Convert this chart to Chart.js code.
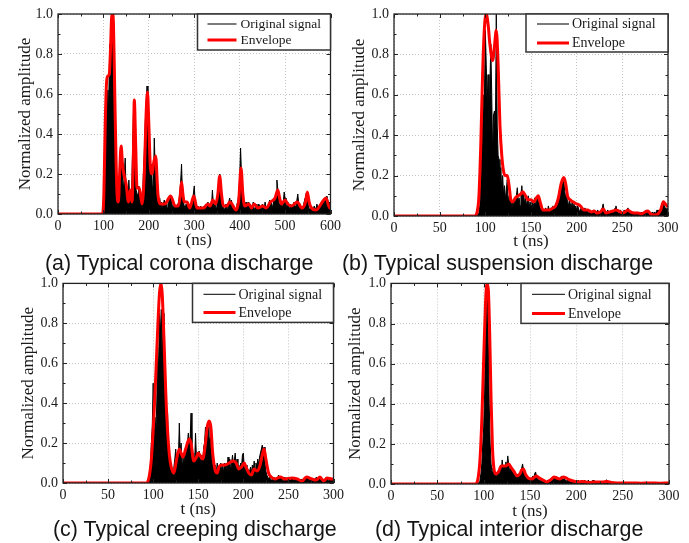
<!DOCTYPE html>
<html>
<head>
<meta charset="utf-8">
<script src="https://cdn.jsdelivr.net/npm/chart.js@4.4.0/dist/chart.umd.min.js"></script>
<style>
  body { margin: 0; background: #fff; width: 689px; height: 543px; position: relative; overflow: hidden; }
  canvas { position: absolute; }
  .caption { position: absolute; font-family: "Liberation Sans", Arial, sans-serif; font-size: 21.4px; line-height: 21px; color: #151515; white-space: nowrap; }
</style>
</head>
<body>
<canvas id="chartA" width="345" height="252" style="left:0;top:0"></canvas>
<canvas id="chartB" width="344" height="252" style="left:345px;top:0"></canvas>
<canvas id="chartC" width="348" height="252" style="left:0;top:270px"></canvas>
<canvas id="chartD" width="344" height="252" style="left:345px;top:270px"></canvas>
<div class="caption" style="left:45px;top:253px">(a) Typical corona discharge</div>
<div class="caption" style="left:342px;top:253px">(b) Typical suspension discharge</div>
<div class="caption" style="left:53px;top:519px">(c) Typical creeping discharge</div>
<div class="caption" style="left:375px;top:519px">(d) Typical interior discharge</div>
<script>
// tick labels
const xTicks600 = [0, 100, 200, 300, 400, 500, 600];
const xTicks300 = [0, 50, 100, 150, 200, 250, 300];
const yTicks = [0, 0.2, 0.4, 0.6, 0.8, 1.0];
const yTickLabels = ['0.0', '0.2', '0.4', '0.6', '0.8', '1.0'];

// (a) corona: signal sampled every 2 ns from 100 ns
const aSigStart = 100, aSigStep = 2;
const aSignal = [
  0.0, 0.02, 0.3, 0.55, 0.62, 0.45, 0.6, 0.85, 0.7, 1.0,
  0.9, 0.75, 0.5, 0.35, 0.2, 0.1, 0.05, 0.12, 0.25, 0.3,
  0.28, 0.18, 0.12, 0.2, 0.28, 0.1, 0.06, 0.04, 0.17, 0.08,
  0.05, 0.1, 0.3, 0.5, 0.55, 0.35, 0.12, 0.1, 0.08, 0.14,
  0.12, 0.06, 0.04, 0.08, 0.2, 0.3, 0.45, 0.55, 0.64, 0.58,
  0.4, 0.3, 0.2, 0.25, 0.12, 0.15, 0.38, 0.22, 0.15, 0.08,
  0.06, 0.05, 0.08, 0.04, 0.06, 0.03, 0.05, 0.07, 0.04, 0.05,
  0.03, 0.05, 0.06, 0.08, 0.09, 0.06, 0.04, 0.03, 0.05, 0.03,
  0.04, 0.02, 0.05, 0.06, 0.1, 0.16, 0.25, 0.1, 0.06, 0.04,
  0.03, 0.05, 0.04, 0.06, 0.03, 0.02, 0.04, 0.05, 0.07, 0.1,
  0.14, 0.06, 0.03, 0.02, 0.04, 0.03, 0.02, 0.04, 0.03, 0.02,
  0.03, 0.04, 0.02, 0.05, 0.03, 0.06, 0.04, 0.03, 0.05, 0.04,
  0.12, 0.05, 0.04, 0.06, 0.03, 0.05, 0.08, 0.14, 0.2, 0.12,
  0.05, 0.03, 0.04, 0.02, 0.03, 0.05, 0.03, 0.02, 0.06, 0.08,
  0.05, 0.07, 0.03, 0.04, 0.02, 0.03, 0.02, 0.05, 0.06, 0.1,
  0.18, 0.33, 0.2, 0.08, 0.04, 0.05, 0.03, 0.06, 0.03, 0.04,
  0.06, 0.02, 0.05, 0.03, 0.04, 0.06, 0.02, 0.03, 0.05, 0.02,
  0.03, 0.05, 0.04, 0.02, 0.03, 0.05, 0.04, 0.03, 0.06, 0.03,
  0.04, 0.02, 0.05, 0.07, 0.04, 0.06, 0.03, 0.05, 0.08, 0.06,
  0.1, 0.17, 0.12, 0.06, 0.04, 0.07, 0.05, 0.03, 0.06, 0.11,
  0.08, 0.05, 0.03, 0.06, 0.04, 0.02, 0.05, 0.04, 0.03, 0.05,
  0.06, 0.04, 0.03, 0.07, 0.1, 0.05, 0.03, 0.04, 0.02, 0.03,
  0.04, 0.06, 0.08, 0.1, 0.11, 0.06, 0.03, 0.02, 0.04, 0.02,
  0.03, 0.02, 0.04, 0.03, 0.02, 0.05, 0.03, 0.04, 0.02, 0.05,
  0.06, 0.04, 0.07, 0.05, 0.08, 0.06, 0.09, 0.07, 0.05, 0.06,
  0.04
];
const aEnvTime = [0, 98, 101, 104, 107, 110, 113, 116, 118, 120, 122, 125, 128, 131, 133, 136, 139, 142, 145, 150,
  155, 159, 163, 166, 168, 171, 174, 179, 185, 190, 194, 197, 200, 203, 207, 211, 215, 220, 226, 235,
  248, 258, 265, 269, 272, 275, 278, 284, 290, 299, 306, 320, 330, 335, 341, 347, 352, 356, 360, 364,
  372, 378, 383, 392, 398, 403, 407, 411, 420, 426, 432, 440, 451, 458, 468, 478, 484, 488, 492, 500,
  506, 514, 527, 537, 545, 549, 553, 558, 568, 582, 590, 598, 600];
const aEnvelope = [0, 0, 0.1, 0.45, 0.66, 0.69, 0.7, 0.85, 0.98, 1.0, 0.96, 0.6, 0.25, 0.07, 0.06, 0.22, 0.34, 0.25, 0.2, 0.15,
  0.06, 0.12, 0.06, 0.3, 0.57, 0.35, 0.13, 0.13, 0.05, 0.2, 0.5, 0.61, 0.45, 0.25, 0.2, 0.26, 0.29, 0.1, 0.05, 0.05,
  0.09, 0.04, 0.04, 0.09, 0.16, 0.1, 0.06, 0.06, 0.03, 0.09, 0.03, 0.03, 0.05, 0.04, 0.07, 0.05, 0.1, 0.19, 0.1, 0.04,
  0.04, 0.06, 0.05, 0.02, 0.07, 0.23, 0.1, 0.04, 0.05, 0.03, 0.05, 0.03, 0.04, 0.03, 0.06, 0.08, 0.12, 0.08, 0.05, 0.07,
  0.05, 0.04, 0.06, 0.03, 0.06, 0.11, 0.06, 0.03, 0.02, 0.06, 0.08, 0.03, 0.03];

// (b) suspension: signal every 1 ns from 90 ns
const bSigStart = 90, bSigStep = 1;
const bSignal = [
  0, 0, 0.01, 0.02, 0.05, 0.15, 0.3, 0.45, 0.6, 0.58,
  0.92, 0.75, 0.55, 0.7, 0.4, 0.65, 0.85, 0.6, 0.3, 0.5,
  0.52, 0.4, 1.0, 0.45, 0.3, 0.28, 0.15, 0.24, 0.12, 0.2,
  0.1, 0.15, 0.08, 0.13, 0.18, 0.06, 0.1, 0.05, 0.08, 0.04,
  0.07, 0.05, 0.09, 0.06, 0.1, 0.14, 0.07, 0.09, 0.05, 0.11,
  0.15, 0.08, 0.11, 0.06, 0.09, 0.05, 0.08, 0.1, 0.04, 0.07,
  0.05, 0.08, 0.04, 0.06, 0.09, 0.05, 0.07, 0.1, 0.06, 0.08,
  0.04, 0.03, 0.05, 0.02, 0.03, 0.02, 0.04, 0.03, 0.02, 0.05,
  0.03, 0.02, 0.04, 0.03, 0.05, 0.04, 0.03, 0.06, 0.05, 0.08,
  0.1, 0.12, 0.14, 0.16, 0.18, 0.19, 0.17, 0.12, 0.09, 0.1,
  0.07, 0.05, 0.08, 0.06, 0.04, 0.07, 0.05, 0.06, 0.04, 0.05,
  0.03, 0.05, 0.04, 0.02, 0.03, 0.04, 0.02, 0.03, 0.02, 0.04,
  0.03, 0.02, 0.03, 0.01, 0.02, 0.03, 0.02, 0.01, 0.02, 0.03,
  0.02, 0.01, 0.02, 0.03, 0.02, 0.01, 0.02, 0.03, 0.04, 0.06,
  0.03, 0.02, 0.01, 0.02, 0.03, 0.02, 0.01, 0.02, 0.03, 0.02,
  0.03, 0.02, 0.04, 0.05, 0.03, 0.02, 0.01, 0.02, 0.03, 0.02,
  0.01, 0.02, 0.03, 0.02, 0.01, 0.02, 0.04, 0.03, 0.02, 0.01,
  0.02, 0.01, 0.02, 0.01, 0.02, 0.01, 0.02, 0.01, 0.01, 0.02,
  0.01, 0.02, 0.01, 0.02, 0.01, 0.02, 0.03, 0.02, 0.01, 0.02,
  0.01, 0.02, 0.01, 0.02, 0.01, 0.02, 0.01, 0.02, 0.03, 0.02,
  0.03, 0.02, 0.04, 0.05, 0.06, 0.07, 0.05, 0.04, 0.03, 0.04,
  0.03
];
const bEnvTime = [0, 88, 91, 93, 95, 97, 99, 101, 103, 105, 108, 110, 112, 114, 116, 118, 120, 122, 124, 126,
  128, 130, 133, 136, 139, 141, 144, 147, 150, 153, 156, 158, 160, 163, 167, 170, 174, 177, 180, 183,
  186, 188, 190, 193, 196, 200, 204, 208, 212, 216, 219, 222, 226, 229, 232, 236, 240, 243, 246, 250,
  253, 256, 259, 263, 267, 271, 275, 278, 281, 285, 289, 292, 295, 297, 300];
const bEnvelope = [0, 0, 0.02, 0.1, 0.35, 0.7, 0.93, 1.0, 0.95, 0.85, 0.77, 0.84, 0.92, 0.75, 0.45, 0.3, 0.22, 0.2, 0.2, 0.15,
  0.08, 0.07, 0.09, 0.1, 0.11, 0.12, 0.1, 0.08, 0.08, 0.07, 0.09, 0.1, 0.07, 0.03, 0.03, 0.03, 0.04, 0.05, 0.09, 0.16,
  0.19, 0.16, 0.1, 0.08, 0.07, 0.06, 0.05, 0.03, 0.03, 0.02, 0.025, 0.015, 0.02, 0.035, 0.015, 0.02, 0.025, 0.03, 0.025, 0.015,
  0.02, 0.03, 0.02, 0.015, 0.015, 0.01, 0.02, 0.025, 0.01, 0.005, 0.01, 0.03, 0.07, 0.06, 0.045];

// (c) creeping: signal every 1 ns from 94 ns
const cSigStart = 94, cSigStep = 1;
const cSignal = [
  0, 0.01, 0.03, 0.1, 0.2, 0.28,
  0.5, 0.27, 0.33, 0.25, 0.4, 0.68, 0.55, 0.85, 0.75, 0.87,
  0.6, 0.85, 0.58, 0.5, 0.4, 0.3, 0.35, 0.15, 0.1, 0.08,
  0.1, 0.06, 0.04, 0.08, 0.12, 0.17, 0.1, 0.14, 0.12, 0.3,
  0.15, 0.2, 0.1, 0.13, 0.09, 0.16, 0.12, 0.18, 0.2, 0.25,
  0.18, 0.22, 0.35, 0.2, 0.12, 0.15, 0.1, 0.25, 0.12, 0.14,
  0.1, 0.16, 0.12, 0.08, 0.14, 0.1, 0.18, 0.2, 0.28, 0.22,
  0.25, 0.28, 0.22, 0.3, 0.18, 0.12, 0.08, 0.1, 0.06, 0.09,
  0.05, 0.1, 0.07, 0.04, 0.08, 0.1, 0.06, 0.09, 0.05, 0.1,
  0.07, 0.1, 0.06, 0.13, 0.08, 0.12, 0.06, 0.1, 0.14, 0.09,
  0.11, 0.15, 0.07, 0.12, 0.05, 0.09, 0.06, 0.1, 0.08, 0.14,
  0.15, 0.08, 0.05, 0.09, 0.04, 0.07, 0.03, 0.06, 0.08, 0.05,
  0.09, 0.06, 0.11, 0.07, 0.1, 0.08, 0.12, 0.09, 0.13, 0.15,
  0.17, 0.19, 0.15, 0.18, 0.1, 0.06, 0.04, 0.03, 0.02, 0.03,
  0.02, 0.01, 0.02, 0.03, 0.02, 0.01, 0.02, 0.03, 0.02, 0.04,
  0.03, 0.02, 0.03, 0.02, 0.01, 0.02, 0.03, 0.02, 0.01, 0.02,
  0.03, 0.02, 0.01, 0.02, 0.03, 0.02, 0.01, 0.02, 0.01, 0.02,
  0.01, 0.02, 0.01, 0.01, 0.02, 0.01, 0.02, 0.01, 0.02, 0.03,
  0.02, 0.03, 0.02, 0.01, 0.02, 0.01, 0.02, 0.01, 0.02, 0.01,
  0.02, 0.03, 0.02, 0.01, 0.03, 0.02, 0.01, 0.02, 0.01, 0.02,
  0.01, 0.02, 0.03, 0.02, 0.01, 0.02, 0.01, 0.02, 0.02, 0.01,
  0.02
];
const cEnvTime = [0, 92, 95, 98, 101, 103, 105, 107, 108.5, 110, 112, 114, 116, 118, 120, 123, 126, 129, 131, 133,
  136, 140, 142, 145, 148, 150, 153, 155, 158, 160, 162, 164, 166, 169, 171, 173, 176, 180, 184, 189,
  192, 195, 198, 201, 203, 206, 209, 212, 215, 218, 221, 223, 225, 228, 231, 235, 241, 246, 254, 260,
  265, 270, 276, 281, 285, 289, 293, 298, 300];
const cEnvelope = [0, 0, 0.02, 0.12, 0.35, 0.55, 0.77, 0.95, 1.0, 0.95, 0.72, 0.45, 0.26, 0.14, 0.08, 0.05, 0.12, 0.17, 0.15, 0.13,
  0.17, 0.22, 0.2, 0.11, 0.13, 0.15, 0.13, 0.12, 0.2, 0.28, 0.31, 0.28, 0.15, 0.06, 0.05, 0.08, 0.09, 0.09, 0.1, 0.11,
  0.1, 0.07, 0.08, 0.1, 0.08, 0.05, 0.04, 0.07, 0.06, 0.08, 0.14, 0.17, 0.12, 0.05, 0.03, 0.02, 0.03, 0.02, 0.025, 0.02,
  0.01, 0.03, 0.02, 0.015, 0.03, 0.01, 0.025, 0.02, 0.02];

// (d) interior: signal every 1 ns from 94 ns
const dSigStart = 94, dSigStep = 1;
const dSignal = [
  0, 0.01, 0.02, 0.05, 0.1, 0.2,
  0.28, 0.45, 0.75, 0.95, 0.98, 0.7, 0.4, 0.2, 0.1, 0.06,
  0.08, 0.05, 0.04, 0.06, 0.03, 0.05, 0.07, 0.04, 0.08, 0.06,
  0.12, 0.07, 0.09, 0.05, 0.11, 0.08, 0.14, 0.1, 0.06, 0.09,
  0.08, 0.05, 0.07, 0.04, 0.06, 0.03, 0.05, 0.04, 0.03, 0.05,
  0.06, 0.08, 0.1, 0.07, 0.05, 0.03, 0.04, 0.02, 0.03, 0.02,
  0.03, 0.02, 0.03, 0.04, 0.03, 0.05, 0.06, 0.04, 0.03, 0.02,
  0.02, 0.01, 0.02, 0.01, 0.02, 0.01, 0.02, 0.01, 0.01, 0.02,
  0.01, 0.02, 0.01, 0.02, 0.03, 0.02, 0.03, 0.04, 0.03, 0.02,
  0.02, 0.03, 0.02, 0.03, 0.04, 0.03, 0.02, 0.03, 0.02, 0.01,
  0.02, 0.01, 0.02, 0.01, 0.01, 0.02, 0.01, 0.01, 0.02, 0.01,
  0.01, 0.01, 0.02, 0.01, 0.01, 0.01, 0.02, 0.01, 0.01, 0.02,
  0.01, 0.01, 0.01, 0.02, 0.01, 0.01, 0.01, 0.01, 0.02, 0.01,
  0.01, 0.01, 0.01, 0.01, 0.01, 0.01, 0.01, 0.01, 0.01, 0.01,
  0.01, 0.01, 0.02, 0.02, 0.01, 0.01, 0.01, 0.01, 0.01, 0.01,
  0.01, 0.005, 0.01, 0.005, 0.01, 0.005, 0.01, 0.005, 0.01, 0.005,
  0.01, 0.005, 0.01, 0.005, 0.01, 0.005, 0.01, 0.005, 0.01, 0.005,
  0.01, 0.005, 0.01, 0.005, 0.01, 0.005, 0.01, 0.005, 0.01, 0.005,
  0.01, 0.005, 0.01, 0.005, 0.01, 0.005, 0.01, 0.005, 0.01, 0.005,
  0.01, 0.005, 0.01, 0.005, 0.01, 0.005, 0.01, 0.005, 0.01, 0.005,
  0.01, 0.005, 0.01, 0.005, 0.01, 0.005, 0.01, 0.005, 0.01, 0.005,
  0.005
];
const dEnvTime = [0, 91, 94, 96, 98, 100, 102, 103.5, 105, 106.5, 108, 109.5, 111, 113, 116, 119, 122, 124, 127, 130,
  133, 136, 139, 141, 143, 145, 148, 152, 155, 157, 160, 164, 168, 172, 176, 179, 182, 186, 189, 193,
  197, 201, 207, 213, 220, 228, 233, 240, 250, 260, 270, 280, 290, 300];
const dEnvelope = [0, 0, 0.03, 0.12, 0.32, 0.62, 0.9, 1.0, 0.97, 0.75, 0.42, 0.18, 0.08, 0.05, 0.06, 0.09, 0.09, 0.09, 0.1, 0.08,
  0.06, 0.04, 0.05, 0.07, 0.075, 0.05, 0.03, 0.025, 0.035, 0.04, 0.03, 0.02, 0.01, 0.02, 0.035, 0.03, 0.025, 0.035, 0.03, 0.02,
  0.015, 0.01, 0.012, 0.008, 0.01, 0.01, 0.012, 0.006, 0.005, 0.005, 0.004, 0.005, 0.004, 0.005];

const serif = '"Liberation Serif", "Times New Roman", serif';
const textColor = '#1a1a1a';

function sampled(start, step, values) {
  return values.map((v, i) => ({ x: start + i * step, y: v }));
}

function paired(times, values) {
  return times.map((t, i) => ({ x: t, y: values[i] }));
}

// box frame, inward ticks and the legend box
const framePlugin = {
  id: 'frame',
  afterDatasetsDraw(chart, args, opts) {
    const { ctx, chartArea, scales } = chart;
    const { left, top, right, bottom } = chartArea;
    ctx.save();
    ctx.strokeStyle = '#222';
    ctx.lineWidth = 1;

    const tickX = (v, len) => {
      const p = Math.round(scales.x.getPixelForValue(v)) + 0.5;
      ctx.beginPath();
      ctx.moveTo(p, bottom); ctx.lineTo(p, bottom - len);
      ctx.moveTo(p, top); ctx.lineTo(p, top + len);
      ctx.stroke();
    };
    const tickY = (v, len) => {
      const p = Math.round(scales.y.getPixelForValue(v)) + 0.5;
      ctx.beginPath();
      ctx.moveTo(left, p); ctx.lineTo(left + len, p);
      ctx.moveTo(right, p); ctx.lineTo(right - len, p);
      ctx.stroke();
    };
    const xt = opts.xTicks;
    for (let i = 0; i < xt.length; i++) {
      tickX(xt[i], 4);
      if (i < xt.length - 1) tickX((xt[i] + xt[i + 1]) / 2, 2.5);
    }
    for (let i = 0; i < yTicks.length; i++) {
      tickY(yTicks[i], 4);
      if (i < yTicks.length - 1) tickY((yTicks[i] + yTicks[i + 1]) / 2, 2.5);
    }

    ctx.lineWidth = 1.3;
    ctx.strokeRect(left, top, right - left, bottom - top);

    // legend
    const L = opts.legend;
    const bx = right - L.w, by = top;
    ctx.fillStyle = '#fff';
    ctx.fillRect(bx, by, L.w, L.h);
    ctx.strokeStyle = '#333';
    ctx.lineWidth = 1.5;
    ctx.strokeRect(bx, by, L.w, L.h);

    const sets = chart.data.datasets;
    const entries = [sets[1], sets[0]];
    ctx.font = L.size + 'px ' + serif;
    ctx.textBaseline = 'middle';
    entries.forEach((ds, i) => {
      const yy = by + L.rows[i];
      ctx.beginPath();
      ctx.strokeStyle = ds.legendColor;
      ctx.lineWidth = ds.borderWidth === 1 ? 1.3 : 3;
      ctx.moveTo(bx + L.lineX, yy);
      ctx.lineTo(bx + L.lineX + L.lineLen, yy);
      ctx.stroke();
      ctx.fillStyle = textColor;
      ctx.fillText(ds.label, bx + L.textX, yy + 0.5);
    });
    ctx.restore();
  }
};

function makeChart(id, cfg) {
  return new Chart(document.getElementById(id), {
    type: 'line',
    data: {
      datasets: [
        {
          label: 'Envelope',
          data: cfg.envelope,
          borderColor: '#ff0000',
          legendColor: '#ff0000',
          borderWidth: 3,
          pointRadius: 0,
          cubicInterpolationMode: 'monotone',
          fill: false,
          order: 0
        },
        {
          label: 'Original signal',
          data: cfg.signal,
          borderColor: '#000',
          backgroundColor: '#000',
          legendColor: '#333',
          borderWidth: 1,
          pointRadius: 0,
          tension: 0,
          fill: 'origin',
          order: 1
        }
      ]
    },
    options: {
      responsive: false,
      animation: false,
      devicePixelRatio: 1,
      layout: { padding: { left: 0, top: cfg.padTop, right: cfg.padRight, bottom: 0 } },
      plugins: {
        legend: { display: false },
        tooltip: { enabled: false },
        frame: { xTicks: cfg.xTicks, legend: cfg.legend }
      },
      scales: {
        x: {
          type: 'linear',
          min: 0,
          max: cfg.xTicks[cfg.xTicks.length - 1],
          afterBuildTicks: s => { s.ticks = cfg.xTicks.map(v => ({ value: v })); },
          afterFit: s => { s.height = cfg.xH; },
          grid: { color: '#c4c4c4', lineWidth: 1, drawTicks: false },
          border: { display: false, dash: [1, 2] },
          ticks: {
            autoSkip: false, maxRotation: 0, padding: 4, color: textColor,
            font: { family: serif, size: 14 },
            callback: v => String(v)
          },
          title: {
            display: true, text: 't (ns)', color: textColor,
            font: { family: serif, size: 17 },
            padding: { top: 0, bottom: cfg.xTitlePad }
          }
        },
        y: {
          min: 0,
          max: 1,
          afterBuildTicks: s => { s.ticks = yTicks.map(v => ({ value: v })); },
          afterFit: s => { s.width = cfg.yW; },
          grid: { color: '#c4c4c4', lineWidth: 1, drawTicks: false },
          border: { display: false, dash: [1, 2] },
          ticks: {
            autoSkip: false, padding: 5, color: textColor,
            font: { family: serif, size: 14 },
            callback: (v, i) => yTickLabels[i]
          },
          title: {
            display: true, text: 'Normalized amplitude', color: textColor,
            font: { family: serif, size: 17 },
            padding: { top: cfg.yTitlePad, bottom: 0 }
          }
        }
      }
    },
    plugins: [framePlugin]
  });
}

makeChart('chartA', {
  signal: sampled(aSigStart, aSigStep, aSignal),
  envelope: paired(aEnvTime, aEnvelope),
  xTicks: xTicks600,
  padTop: 14, padRight: 12, yW: 58, xH: 38, xTitlePad: 1.5, yTitlePad: 15.8,
  legend: { w: 133, h: 36, lineX: 10, lineLen: 29, textX: 43, rows: [10, 26], size: 13.5 }
});
makeChart('chartB', {
  signal: sampled(bSigStart, bSigStep, bSignal),
  envelope: paired(bEnvTime, bEnvelope),
  xTicks: xTicks300,
  padTop: 14, padRight: 21, yW: 49, xH: 36, xTitlePad: 0.3, yTitlePad: 4.3,
  legend: { w: 142, h: 38, lineX: 11, lineLen: 32, textX: 46, rows: [10, 29], size: 14 }
});
makeChart('chartC', {
  signal: sampled(cSigStart, cSigStep, cSignal),
  envelope: paired(cEnvTime, cEnvelope),
  xTicks: xTicks300,
  padTop: 13, padRight: 13, yW: 63, xH: 39, xTitlePad: 2.5, yTitlePad: 18.3,
  legend: { w: 141, h: 39, lineX: 11, lineLen: 32, textX: 46, rows: [11, 29], size: 14 }
});
makeChart('chartD', {
  signal: sampled(dSigStart, dSigStep, dSignal),
  envelope: paired(dEnvTime, dEnvelope),
  xTicks: xTicks300,
  padTop: 12, padRight: 20, yW: 46, xH: 38, xTitlePad: 0, yTitlePad: 0.3,
  legend: { w: 148, h: 40, lineX: 11, lineLen: 33, textX: 47, rows: [11, 30], size: 14 }
});
</script>
</body>
</html>
